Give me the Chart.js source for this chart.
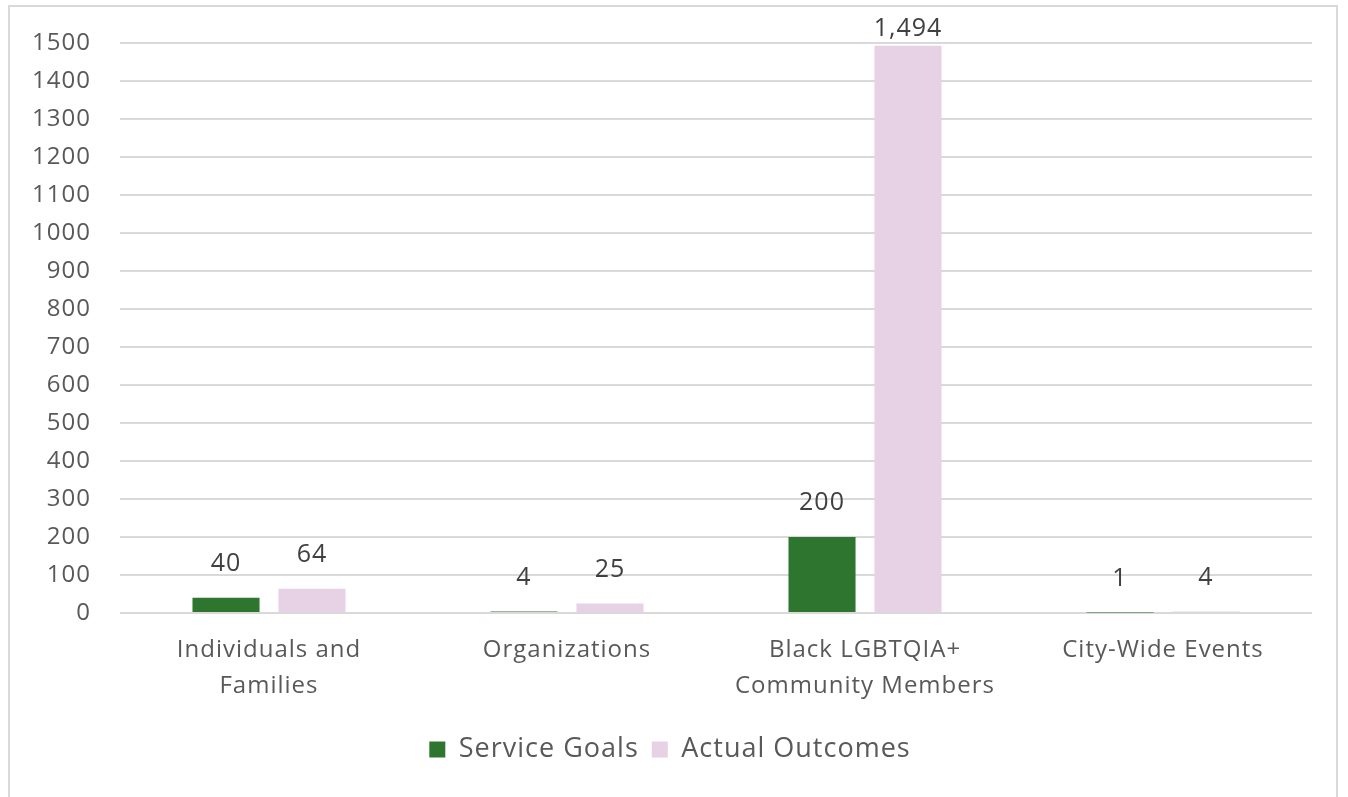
<!DOCTYPE html>
<html>
<head>
<meta charset="utf-8">
<script src="https://cdn.jsdelivr.net/npm/chart.js@4.4.1/dist/chart.umd.min.js"></script>
<style>
  html, body { margin: 0; padding: 0; background: #fff; }
  #wrap { position: relative; width: 1348px; height: 797px; }
  #frame {
    position: absolute; left: 8px; top: 5px; width: 1330px; height: 800px;
    border: 2px solid #d9d9d9; box-sizing: border-box; pointer-events: none;
  }
  canvas { position: absolute; left: 0; top: 0; }
</style>
</head>
<body>
<div id="wrap">
  <canvas id="chart" width="1348" height="797"></canvas>
  <div id="frame"></div>
</div>
<script>
const categories = [
    ['Individuals and', 'Families'],
    'Organizations',
    ['Black LGBTQIA+', 'Community Members'],
    'City-Wide Events'
];
const serviceGoals = [40, 4, 200, 1];
const actualOutcomes = [64, 25, 1494, 4];
const yTicks = [0, 100, 200, 300, 400, 500, 600, 700, 800, 900, 1000, 1100, 1200, 1300, 1400, 1500];

const FONT = "'Open Sans', 'Noto Sans', sans-serif";

// Reference font is a bit wider, so spread the letters a little
const letterSpacing = {
    id: 'letterSpacing',
    beforeDraw(chart) {
        chart.ctx.letterSpacing = '1px';
    }
};

// Draw value labels above each bar
const valueLabels = {
    id: 'valueLabels',
    afterDatasetsDraw(chart) {
        const ctx = chart.ctx;
        ctx.save();
        ctx.font = '25px ' + FONT;
        ctx.fillStyle = '#404040';
        ctx.textAlign = 'center';
        ctx.textBaseline = 'middle';
        chart.data.datasets.forEach((ds, i) => {
            chart.getDatasetMeta(i).data.forEach((bar, j) => {
                const y = Math.max(bar.y - 34, chart.chartArea.top - 15);
                ctx.fillText(ds.data[j].toLocaleString('en-US'), bar.x, y);
            });
        });
        ctx.restore();
    }
};

const ctx = document.getElementById('chart').getContext('2d');

new Chart(ctx, {
    type: 'bar',
    data: {
        labels: categories,
        datasets: [
            {
                label: 'Service Goals',
                data: serviceGoals,
                backgroundColor: '#2e7530',
                categoryPercentage: 0.577,
                barPercentage: 0.78
            },
            {
                label: 'Actual Outcomes',
                data: actualOutcomes,
                backgroundColor: '#e6d1e5',
                categoryPercentage: 0.577,
                barPercentage: 0.78
            }
        ]
    },
    options: {
        responsive: false,
        animation: false,
        layout: { padding: { left: 0, right: 36, top: 42, bottom: 24 } },
        scales: {
            x: {
                grid: { display: false, drawTicks: false },
                border: { display: false },
                ticks: {
                    color: '#595959',
                    font: { family: FONT, size: 24, lineHeight: 1.5 },
                    padding: 19,
                    maxRotation: 0,
                    autoSkip: false
                }
            },
            y: {
                min: 0,
                max: 1500,
                afterFit(scale) { scale.width = 120; },
                afterBuildTicks(scale) { scale.ticks = yTicks.map(v => ({ value: v })); },
                grid: { color: '#d9d9d9', lineWidth: 2, drawTicks: false },
                border: { display: false },
                ticks: {
                    color: '#595959',
                    font: { family: FONT, size: 24 },
                    padding: 29,
                    callback: v => String(v)
                }
            }
        },
        plugins: {
            legend: {
                position: 'bottom',
                labels: {
                    color: '#595959',
                    font: { family: FONT, size: 27 },
                    boxWidth: 16,
                    boxHeight: 16,
                    padding: 13
                }
            },
            tooltip: { enabled: false }
        }
    },
    plugins: [letterSpacing, valueLabels]
});
</script>
</body>
</html>
